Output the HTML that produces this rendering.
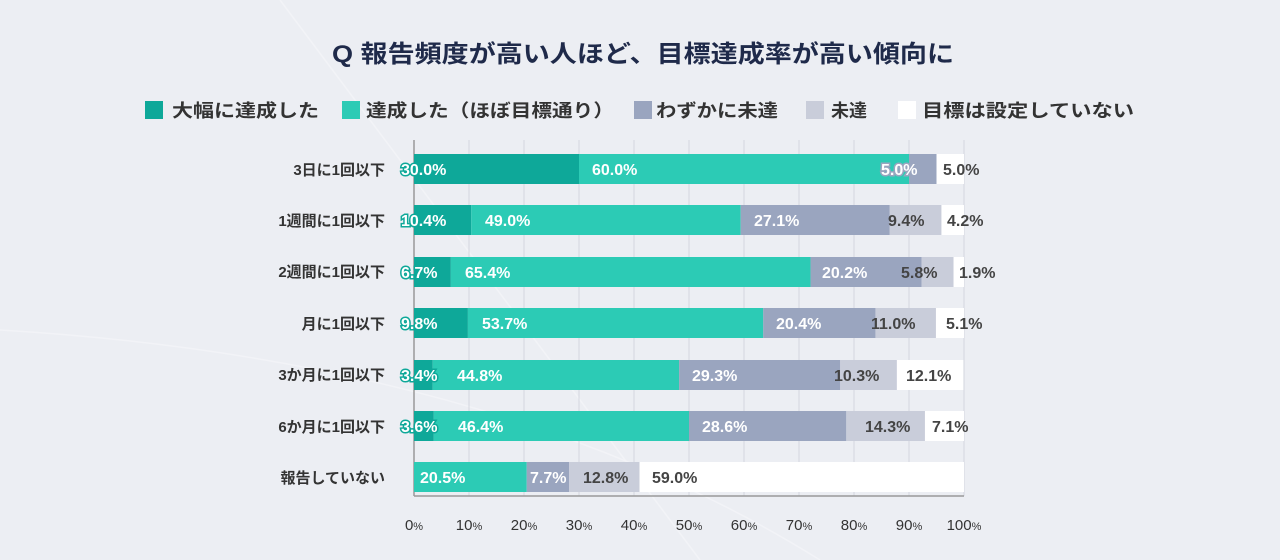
<!DOCTYPE html>
<html><head><meta charset="utf-8"><style>
html,body{margin:0;padding:0;background:#eceef3;}
svg{display:block;font-family:"Liberation Sans","Noto Sans CJK JP",sans-serif;}
</style></head><body>
<svg width="1280" height="560" viewBox="0 0 1280 560" xmlns="http://www.w3.org/2000/svg">
<rect width="1280" height="560" fill="#eceef3"/>
<path d="M280 0 L700 560" stroke="#f2f3f7" stroke-width="1.5" fill="none"/>
<path d="M0 330 Q500 360 820 560" stroke="#f2f3f7" stroke-width="1.5" fill="none"/>
<text x="643" y="62" text-anchor="middle" font-size="24" font-weight="bold" fill="#1f2a4a" textLength="622" lengthAdjust="spacingAndGlyphs">Q 報告頻度が高い人ほど、目標達成率が高い傾向に</text>
<g font-size="18" fill="#333" font-weight="bold">
<rect x="145" y="101" width="18" height="18" fill="#0ea899"/><text x="172" y="117" textLength="147" lengthAdjust="spacingAndGlyphs">大幅に達成した</text>
<rect x="342" y="101" width="18" height="18" fill="#2ccbb5"/><text x="366" y="117" textLength="248" lengthAdjust="spacingAndGlyphs">達成した（ほぼ目標通り）</text>
<rect x="634" y="101" width="18" height="18" fill="#9aa5bf"/><text x="656" y="117" textLength="122" lengthAdjust="spacingAndGlyphs">わずかに未達</text>
<rect x="806" y="101" width="18" height="18" fill="#c9cdda"/><text x="831" y="117">未達</text>
<rect x="898" y="101" width="18" height="18" fill="#ffffff"/><text x="922" y="117" textLength="212" lengthAdjust="spacingAndGlyphs">目標は設定していない</text>
</g>
<g stroke="#d4d7df" stroke-width="1">
<line x1="469" y1="140" x2="469" y2="496"/><line x1="524" y1="140" x2="524" y2="496"/><line x1="579" y1="140" x2="579" y2="496"/><line x1="634" y1="140" x2="634" y2="496"/><line x1="689" y1="140" x2="689" y2="496"/><line x1="744" y1="140" x2="744" y2="496"/><line x1="799" y1="140" x2="799" y2="496"/><line x1="854" y1="140" x2="854" y2="496"/><line x1="909" y1="140" x2="909" y2="496"/><line x1="964" y1="140" x2="964" y2="496"/>
</g>
<line x1="414" y1="140" x2="414" y2="496" stroke="#999" stroke-width="1.5"/>
<line x1="414" y1="496" x2="964" y2="496" stroke="#999" stroke-width="1.5"/>
<g>
<rect x="414" y="154" width="165" height="30" fill="#0ea899"/><rect x="579" y="154" width="330" height="30" fill="#2ccbb5"/><rect x="909" y="154" width="27.5" height="30" fill="#9aa5bf"/><rect x="936.5" y="154" width="27.5" height="30" fill="#fff"/>
<rect x="414" y="205" width="57.2" height="30" fill="#0ea899"/><rect x="471.2" y="205" width="269.5" height="30" fill="#2ccbb5"/><rect x="740.7" y="205" width="149.05" height="30" fill="#9aa5bf"/><rect x="889.75" y="205" width="51.7" height="30" fill="#c9cdda"/><rect x="941.45" y="205" width="22.55" height="30" fill="#fff"/>
<rect x="414" y="257" width="36.85" height="30" fill="#0ea899"/><rect x="450.85" y="257" width="359.7" height="30" fill="#2ccbb5"/><rect x="810.55" y="257" width="111.1" height="30" fill="#9aa5bf"/><rect x="921.65" y="257" width="31.9" height="30" fill="#c9cdda"/><rect x="953.55" y="257" width="10.45" height="30" fill="#fff"/>
<rect x="414" y="308" width="53.9" height="30" fill="#0ea899"/><rect x="467.9" y="308" width="295.35" height="30" fill="#2ccbb5"/><rect x="763.25" y="308" width="112.2" height="30" fill="#9aa5bf"/><rect x="875.45" y="308" width="60.5" height="30" fill="#c9cdda"/><rect x="935.95" y="308" width="28.05" height="30" fill="#fff"/>
<rect x="414" y="360" width="18.7" height="30" fill="#0ea899"/><rect x="432.7" y="360" width="246.4" height="30" fill="#2ccbb5"/><rect x="679.1" y="360" width="161.15" height="30" fill="#9aa5bf"/><rect x="840.25" y="360" width="56.65" height="30" fill="#c9cdda"/><rect x="896.9" y="360" width="66.55" height="30" fill="#fff"/>
<rect x="414" y="411" width="19.8" height="30" fill="#0ea899"/><rect x="433.8" y="411" width="255.2" height="30" fill="#2ccbb5"/><rect x="689" y="411" width="157.3" height="30" fill="#9aa5bf"/><rect x="846.3" y="411" width="78.65" height="30" fill="#c9cdda"/><rect x="924.95" y="411" width="39.05" height="30" fill="#fff"/>
<rect x="414" y="462" width="112.75" height="30" fill="#2ccbb5"/><rect x="526.75" y="462" width="42.35" height="30" fill="#9aa5bf"/><rect x="569.1" y="462" width="70.4" height="30" fill="#c9cdda"/><rect x="639.5" y="462" width="324.5" height="30" fill="#fff"/>
</g>
<g font-size="16" font-weight="bold">
<g fill="#fff" stroke="#0ea899" stroke-width="3" paint-order="stroke">
<text x="401" y="175">30.0%</text><text x="401" y="226">10.4%</text><text x="401" y="278">6.7%</text><text x="401" y="329">9.8%</text><text x="401" y="381">3.4%</text><text x="401" y="432">3.6%</text>
</g>
<text x="881" y="175" fill="#fff" stroke="#9aa5bf" stroke-width="3" paint-order="stroke">5.0%</text>
<g fill="#fff">
<text x="592" y="175">60.0%</text>
<text x="485" y="226">49.0%</text><text x="754" y="226">27.1%</text>
<text x="465" y="278">65.4%</text><text x="822" y="278">20.2%</text>
<text x="482" y="329">53.7%</text><text x="776" y="329">20.4%</text>
<text x="457" y="381">44.8%</text><text x="692" y="381">29.3%</text>
<text x="458" y="432">46.4%</text><text x="702" y="432">28.6%</text>
<text x="420" y="483">20.5%</text><text x="530" y="483">7.7%</text>
</g>
<g fill="#444">
<text x="943" y="175">5.0%</text>
<text x="888" y="226">9.4%</text><text x="947" y="226">4.2%</text>
<text x="901" y="278">5.8%</text><text x="959" y="278">1.9%</text>
<text x="871" y="329">11.0%</text><text x="946" y="329">5.1%</text>
<text x="834" y="381">10.3%</text><text x="906" y="381">12.1%</text>
<text x="865" y="432">14.3%</text><text x="932" y="432">7.1%</text>
<text x="583" y="483">12.8%</text><text x="652" y="483">59.0%</text>
</g>
</g>
<g font-size="15" fill="#333" text-anchor="end" font-weight="bold">
<text x="385" y="175">3日に1回以下</text>
<text x="385" y="226">1週間に1回以下</text>
<text x="385" y="277">2週間に1回以下</text>
<text x="385" y="329">月に1回以下</text>
<text x="385" y="380">3か月に1回以下</text>
<text x="385" y="432">6か月に1回以下</text>
<text x="385" y="483">報告していない</text>
</g>
<g font-size="15" fill="#333" text-anchor="middle">
<text x="414" y="530">0<tspan font-size="11">%</tspan></text>
<text x="469" y="530">10<tspan font-size="11">%</tspan></text>
<text x="524" y="530">20<tspan font-size="11">%</tspan></text>
<text x="579" y="530">30<tspan font-size="11">%</tspan></text>
<text x="634" y="530">40<tspan font-size="11">%</tspan></text>
<text x="689" y="530">50<tspan font-size="11">%</tspan></text>
<text x="744" y="530">60<tspan font-size="11">%</tspan></text>
<text x="799" y="530">70<tspan font-size="11">%</tspan></text>
<text x="854" y="530">80<tspan font-size="11">%</tspan></text>
<text x="909" y="530">90<tspan font-size="11">%</tspan></text>
<text x="964" y="530">100<tspan font-size="11">%</tspan></text>
</g>
</svg>
</body></html>
